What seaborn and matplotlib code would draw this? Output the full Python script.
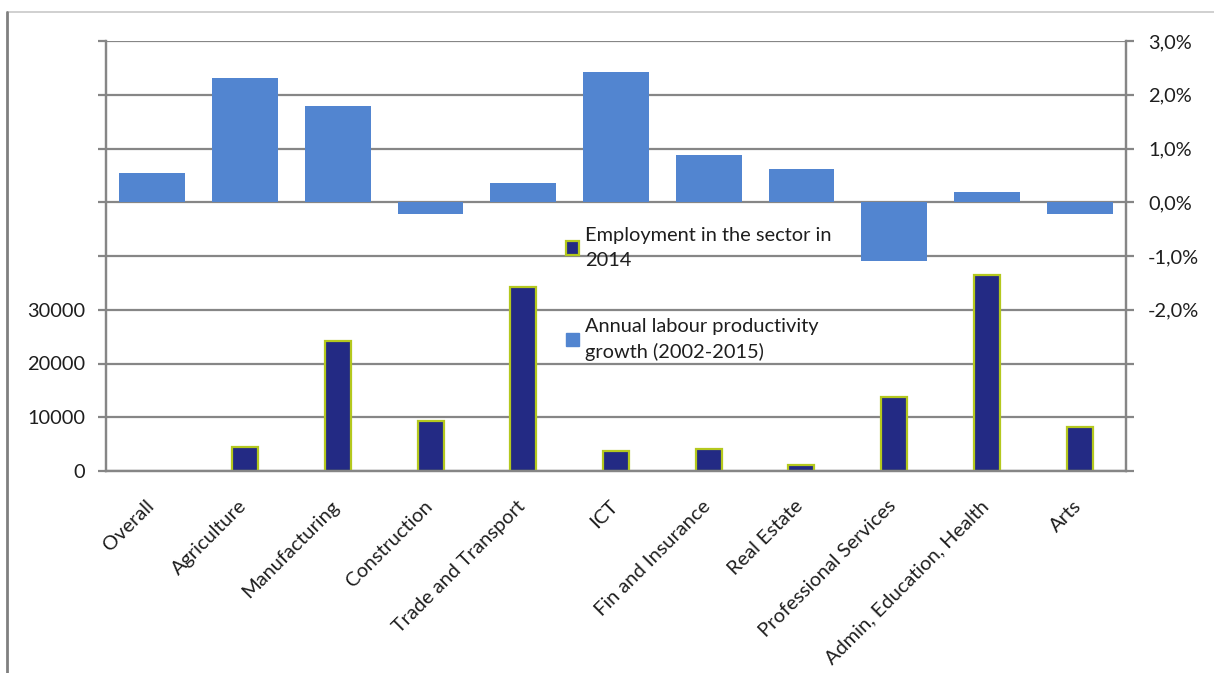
import numpy as np
import matplotlib
matplotlib.use("Agg")
import matplotlib.pyplot as plt
import matplotlib.transforms as mtransforms
import seaborn as sns
from matplotlib.patches import Patch
from matplotlib.lines import Line2D
from matplotlib.ticker import FixedLocator, FuncFormatter

categories = ["Overall", "Agriculture", "Manufacturing", "Construction",
              "Trade and Transport", "ICT", "Fin and Insurance", "Real Estate",
              "Professional Services", "Admin, Education, Health", "Arts"]
employment = [0, 4500, 24200, 9300, 34200, 3700, 4100, 1100, 13800, 36500, 8200]
productivity = [0.54, 2.31, 1.80, -0.22, 0.35, 2.43, 0.87, 0.61, -1.09, 0.20, -0.22]

emp_label = "Employment in the sector in\n2014"
prod_label = "Annual labour productivity\ngrowth (2002-2015)"

sns.set_style("white")
plt.rcParams['font.family'] = ['Lato', 'DejaVu Sans']
TXT = "#1e1e1e"
GRID = "#868686"
NAVY = "#232A84"
EDGE = "#B4C81E"
BLUE = "#5285D0"
FS = 14.4

fig = plt.figure(figsize=(12.14, 6.73), dpi=100)
ax = fig.add_axes([106/1214, 1-471/673, (1126-106)/1214, (471-41)/673])
ax2 = ax.twinx()

sns.barplot(x=categories, y=employment, order=categories, ax=ax, color=NAVY,
            saturation=1, width=0.28, edgecolor=EDGE, linewidth=1.6, errorbar=None,
            zorder=3)
for p in ax.patches:
    if p.get_height() == 0:
        p.set_visible(False)

sns.barplot(x=categories, y=productivity, order=categories, ax=ax2, color=BLUE,
            saturation=1, width=0.71, linewidth=0, errorbar=None, zorder=3)

ax.set_ylim(0, 80000)
ax2.set_ylim(-5, 3)
ax.set_xlim(-0.5, len(categories) - 0.5)

ax.yaxis.set_major_locator(FixedLocator(np.arange(0, 80001, 10000)))
ax.yaxis.set_major_formatter(FuncFormatter(lambda v, p: f"{int(v)}" if v <= 30000 else ""))
ax2.yaxis.set_major_locator(FixedLocator(np.arange(-5, 3.01, 1)))
ax2.yaxis.set_major_formatter(FuncFormatter(
    lambda v, p: (f"{v:.1f}%".replace(".", ",")) if v >= -2 else ""))

ax.set_axisbelow(True)
ax.grid(axis="y", color=GRID, linewidth=1.6)
ax.grid(axis="x", visible=False)
ax2.grid(False)

ax.set_xticks(range(len(categories)))
ax.set_xticklabels(categories, rotation=45, ha="right", rotation_mode="anchor",
                   fontsize=FS, color=TXT)
ax.set_xticks(np.arange(-0.5, len(categories), 1), minor=True)
ax.tick_params(axis="x", which="major", length=0, pad=19)
ax.tick_params(axis="x", which="minor", length=6, width=1.6, color=GRID)
ax.tick_params(axis="y", length=6, width=1.6, color=GRID, labelsize=FS,
               labelcolor=TXT, left=True, pad=9)
ax2.tick_params(axis="y", length=6, width=1.6, color=GRID, labelsize=FS,
                labelcolor=TXT, right=True, pad=10)
ax.set_xlabel("")
ax.set_ylabel("")
ax2.set_ylabel("")

for a in (ax, ax2):
    for s in ["left", "right", "bottom"]:
        a.spines[s].set_visible(True)
        a.spines[s].set_color(GRID)
        a.spines[s].set_linewidth(1.6)
    a.spines["top"].set_visible(False)

handles = [Patch(facecolor=NAVY, edgecolor=EDGE, linewidth=1.6, label=emp_label),
           Patch(facecolor=BLUE, edgecolor=BLUE, label=prod_label)]
leg = ax2.legend(handles=handles, loc="upper left",
                 bbox_to_anchor=(566/1214, 1-227/673), bbox_transform=fig.transFigure,
                 frameon=False, fontsize=FS, handlelength=0.65, handleheight=0.65,
                 handletextpad=0.3, labelspacing=2.45, borderpad=0, borderaxespad=0,
                 labelcolor=TXT)
for t in leg.get_texts():
    t.set_linespacing(1.55)

fig.add_artist(Line2D([7/1214, 1], [1-12/673, 1-12/673], color="#c8c8c8",
                      linewidth=1.2, transform=fig.transFigure))
fig.add_artist(Line2D([7/1214, 7/1214], [0, 1-12/673], color="#808080",
                      linewidth=2, transform=fig.transFigure))

fig.canvas.draw()
offset = mtransforms.ScaledTranslation(-7/100, 0, fig.dpi_scale_trans)
for tick in ax.xaxis.get_major_ticks():
    for lab in (tick.label1,):
        lab.set_transform(lab.get_transform() + offset)

fig.savefig("out.png", dpi=100)
